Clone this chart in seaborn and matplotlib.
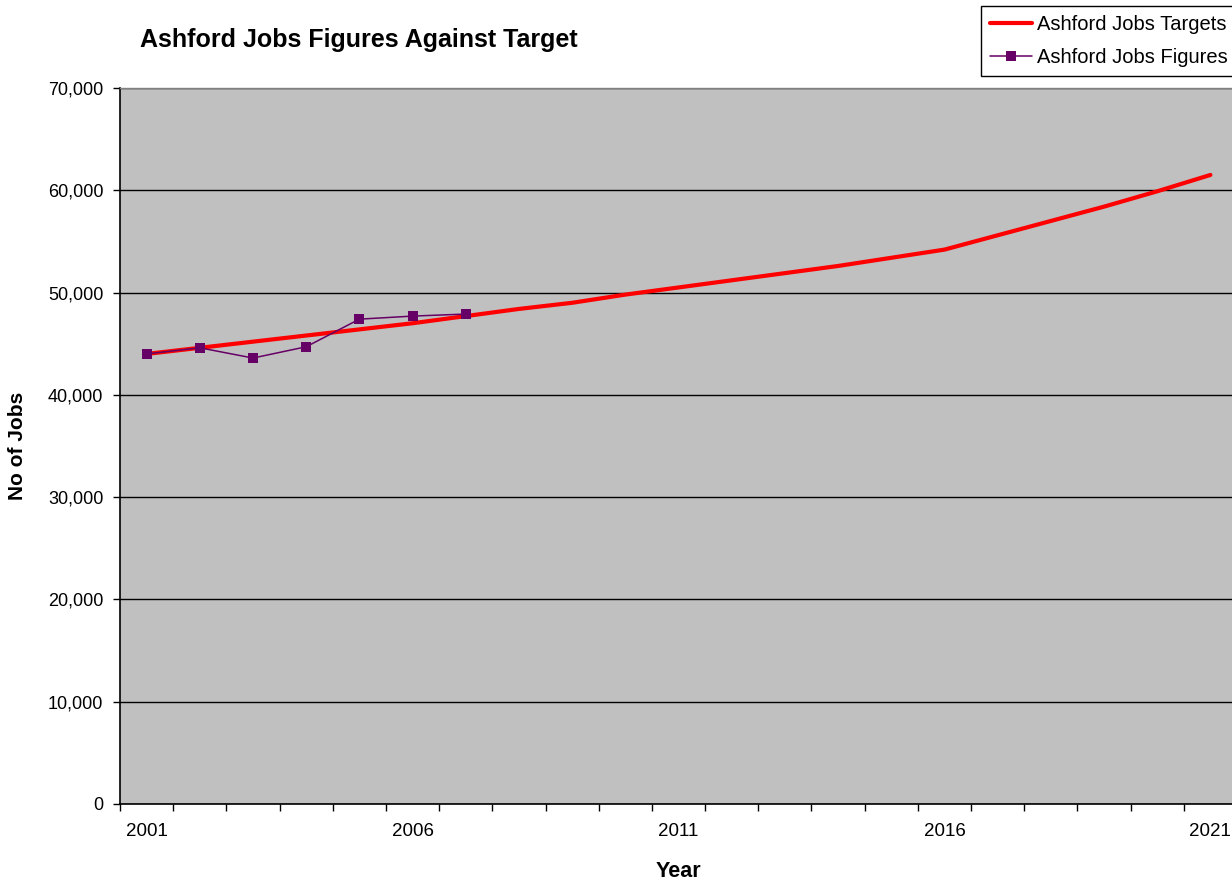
import pandas as pd
import numpy as np
import matplotlib
matplotlib.use("Agg")
import matplotlib.pyplot as plt
import matplotlib.ticker as mticker
import seaborn as sns

# --- data ---
years = [2001, 2002, 2003, 2004, 2005, 2006, 2007, 2008, 2009, 2010, 2011,
         2012, 2013, 2014, 2015, 2016, 2017, 2018, 2019, 2020, 2021]
target_jobs = [44000, 44600, 45200, 45800, 46400, 47000, 47700, 48400, 49000, 49800, 50500,
               51200, 51900, 52600, 53400, 54200, 55600, 57000, 58400, 59900, 61500]
figure_years = [2001, 2002, 2003, 2004, 2005, 2006, 2007]
figure_jobs = [44000, 44600, 43600, 44700, 47400, 47700, 47900]
year_labels = ["2001", "2006", "2011", "2016", "2021"]

df_target = pd.DataFrame({"Year": years, "Jobs": target_jobs})
df_fig = pd.DataFrame({"Year": figure_years, "Jobs": figure_jobs})

sns.set_theme(style="white")
plt.rcParams["font.family"] = ["Liberation Sans", "DejaVu Sans"]
plt.rcParams["text.color"] = "black"
plt.rcParams["axes.labelcolor"] = "black"
plt.rcParams["xtick.color"] = "black"
plt.rcParams["ytick.color"] = "black"

W, H = 1232, 881
fig = plt.figure(figsize=(W / 100, H / 100), dpi=100)
# plot area runs a little past the right edge, like the cropped original
ax = fig.add_axes([120 / W, (H - 804) / H, (1237 - 120) / W, (804 - 88) / H])
ax.set_facecolor("#C0C0C0")

sns.lineplot(data=df_target, x="Year", y="Jobs", ax=ax, color="#FF0000",
             linewidth=3.0, label="Ashford Jobs Targets", zorder=3)
sns.lineplot(data=df_fig, x="Year", y="Jobs", ax=ax, color="#660066",
             linewidth=1.1, marker="s", markersize=7, markeredgewidth=0,
             label="Ashford Jobs Figures", zorder=4)

ax.set_xlim(years[0] - 0.5, years[-1] + 0.5)
ax.set_ylim(0, 70000)

# category style x axis: ticks between years, labels every 5 years
ax.set_xticks([int(y) for y in year_labels])
ax.set_xticklabels(year_labels)
ax.set_xticks(np.arange(years[0] - 0.5, years[-1] + 1, 1), minor=True)
ax.tick_params(axis="x", which="major", length=0, pad=14, labelsize=13.5)
ax.tick_params(axis="x", which="minor", length=5, width=1, direction="out",
               bottom=True, color="black")

ax.set_yticks(np.arange(0, 70001, 10000))
ax.yaxis.set_major_formatter(mticker.FuncFormatter(lambda v, p: f"{int(v):,}"))
ax.tick_params(axis="y", length=5, width=1, direction="out", left=True,
               pad=7, labelsize=13)

ax.grid(axis="y", color="black", linewidth=1)
ax.grid(axis="x", visible=False)
ax.set_axisbelow(True)

for side in ["left", "bottom"]:
    ax.spines[side].set_color("black")
    ax.spines[side].set_linewidth(1.2)
ax.spines["top"].set_color("#808080")
ax.spines["top"].set_linewidth(1)
ax.spines["right"].set_color("#808080")

ax.set_xlabel("Year", fontsize=15.5, fontweight="bold")
ax.set_ylabel("No of Jobs", fontsize=15, fontweight="bold")
ax.xaxis.set_label_coords(0.5, -0.08)
ax.yaxis.set_label_coords(-0.083, 0.5)

fig.text(140 / W, 1 - 40 / H, "Ashford Jobs Figures Against Target",
         fontsize=18, fontweight="bold", ha="left", va="center")

leg = ax.legend(loc="upper left", bbox_to_anchor=(981 / W, 1 - 6 / H),
                bbox_transform=fig.transFigure, fontsize=14.5, frameon=True,
                fancybox=False, edgecolor="black", framealpha=1,
                handlelength=2.1, handletextpad=0.25, borderpad=0.45,
                labelspacing=0.7, borderaxespad=0)
leg.get_frame().set_linewidth(1)

fig.savefig("out.png", dpi=100)
